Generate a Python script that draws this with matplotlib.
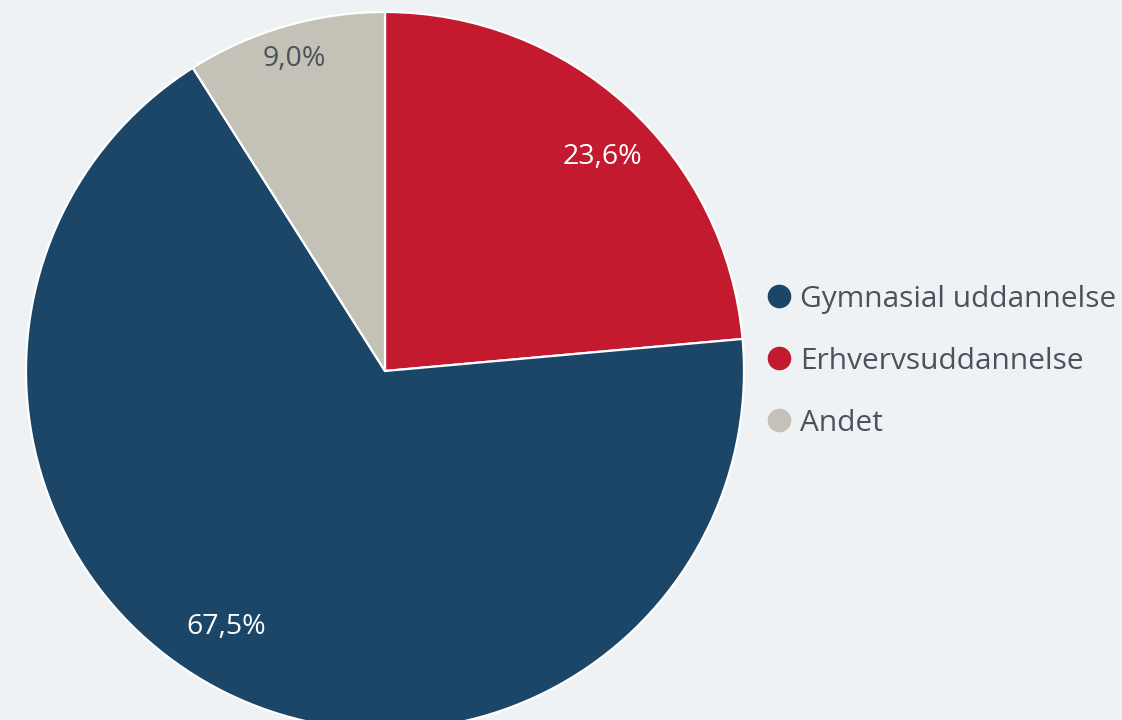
import matplotlib.pyplot as plt
from matplotlib.lines import Line2D
import numpy as np

# Data
labels = ['Gymnasial uddannelse', 'Erhvervsuddannelse', 'Andet']
shares = [67.5, 23.6, 9.0]
colors = ['#1b4668', '#c41a2f', '#c4c2b6']
label_colors = ['white', 'white', '#4a535c']

# pie order, clockwise from 12 o'clock: Erhverv, Gymnasial, Andet
pie_order = [1, 0, 2]
label_dist = [0.85, 0.84, 0.905]
label_shift = [-3.0, -5.5, 0.0]   # degrees, nudge labels like the original

bg = '#eef2f5'
txt = '#4a535c'
plt.rcParams['font.family'] = ['Open Sans', 'DejaVu Sans']

cx, cy, R = 385, 349, 359

fig = plt.figure(figsize=(11.22, 7.2), dpi=100, facecolor=bg)
ax = fig.add_axes([0, 0, 1, 1])
ax.set_facecolor(bg)

vals = [shares[i] for i in pie_order]
cols = [colors[i] for i in pie_order]
wedges, _ = ax.pie(vals, colors=cols, startangle=90, counterclock=False,
                   center=(cx, cy), radius=R,
                   wedgeprops=dict(edgecolor='white', linewidth=1.6))
ax.set_xlim(0, 1122)
ax.set_ylim(0, 720)
ax.set_aspect('equal')
ax.axis('off')

ang = 90.0
total = sum(vals)
for k, i in enumerate(pie_order):
    span = shares[i] / total * 360
    mid = np.deg2rad(ang - span / 2 + label_shift[k])
    ang -= span
    r = R * label_dist[k]
    ax.text(cx + r * np.cos(mid), cy + r * np.sin(mid),
            f'{shares[i]:.1f}%'.replace('.', ','), ha='center', va='center',
            fontsize=20.5, color=label_colors[i])

handles = [Line2D([], [], marker='o', linestyle='none', markersize=16,
                  markerfacecolor=c, markeredgecolor=c) for c in colors]
leg = ax.legend(handles, labels, loc='upper left', bbox_to_anchor=(749 / 1122, 1 - 273 / 720),
                bbox_transform=fig.transFigure, frameon=False, fontsize=21.5,
                handletextpad=0.1, labelspacing=1.1, borderaxespad=0, handlelength=1.2)
for t in leg.get_texts():
    t.set_color(txt)

fig.savefig('out.png', dpi=100, facecolor=bg)
